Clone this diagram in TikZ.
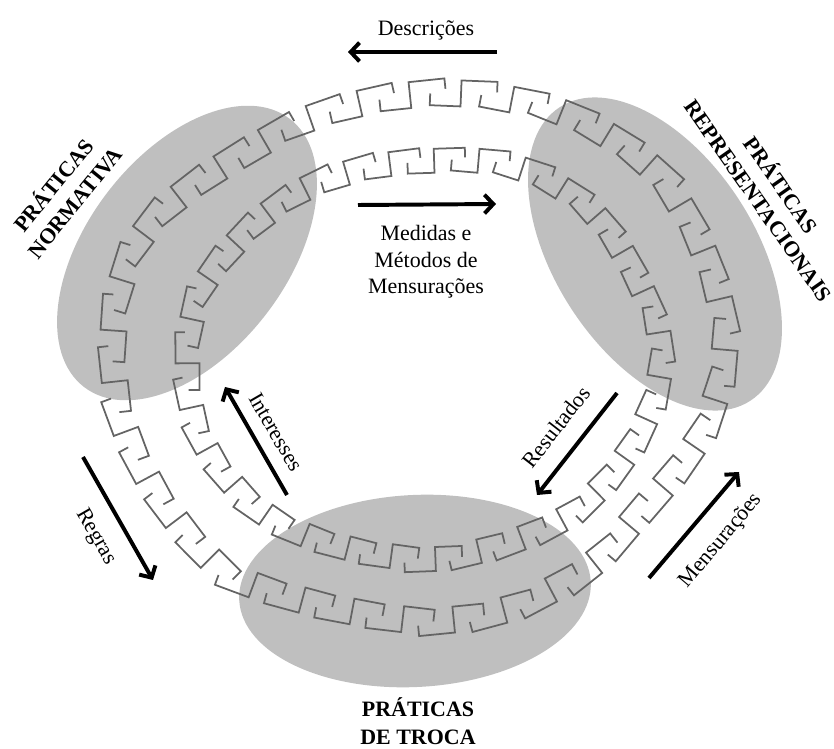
\documentclass[tikz,border=0pt]{standalone}
\usepackage{fontspec}
\setmainfont{Liberation Serif}
\usepackage{tikz}
\usetikzlibrary{arrows.meta}
\usetikzlibrary{decorations.markings}
\definecolor{cinza}{RGB}{191,191,191}
\definecolor{grega}{RGB}{100,100,100}

\begin{document}
\begin{tikzpicture}[x=0.016cm,y=-0.016cm,
		seta/.style={-{Straight Barb[length=4pt,width=8.5pt]},line width=1.8pt},
		rotulo/.style={font=\fontsize{10}{12}\selectfont},
		pratica/.style={font=\fontsize{10}{12.5}\selectfont\bfseries,align=center},
		gregaext/.style={decorate,decoration={markings,
			mark=between positions 0 and 0.99 step 0.02857 with
			{\draw[grega,line width=0.8pt] (-33.4,1.3) -- (-33.4,13) -- (-2.6,13) -- (-2.6,-13) -- (33.4,-13) -- (33.4,-2.6);}}},
		gregaint/.style={decorate,decoration={markings,
			mark=between positions 0 and 0.99 step 0.03226 with
			{\draw[grega,line width=0.8pt] (-28.9,1.2) -- (-28.9,12) -- (-2.2,12) -- (-2.2,-12) -- (28.9,-12) -- (28.9,-2.4);}}}]
		\useasboundingbox (0,0) rectangle (834,749);

		% zonas cinzentas
		\fill[cinza, rotate around={52.5:(187,253)}] (187,253) ellipse [x radius=169, y radius=100];
		\fill[cinza, rotate around={-57:(655,254)}] (655,254) ellipse [x radius=175, y radius=100];
		\fill[cinza, rotate around={3:(415,591)}] (415,591) ellipse [x radius=176, y radius=96];

		% anel externo
		\path[gregaext] plot[smooth cycle] coordinates {(303,121) (362,103) (422,94) (483,95) (555,110) (612,138) (660,176) (693,228) (714,280) (725,332) (720,382) (702,433) (672,476) (638,515) (590,566) (514,607) (430,621) (330,607) (236,578) (190,537) (150,482) (122,420) (113,360) (117,300) (135,247) (167,207) (212,173) (258,145)};
		% anel interno
		\path[gregaint] plot[smooth cycle] coordinates {(263,217) (307,188) (358,170) (410,162) (481,161) (533,173) (583,203) (615,240) (641,287) (658,330) (660,370) (652,405) (633,445) (603,485) (565,518) (505,544) (435,559) (365,552) (305,535) (262,512) (229,480) (204,443) (190,400) (188,345) (200,292) (228,252)};

		\node[pratica,rotate=51] (NORM) at (63,193) {PRÁTICAS\\NORMATIVA};
		\node[pratica,rotate=-55] (REPR) at (771,192) {PRÁTICAS\\REPRESENTACIONAIS};
		\node[pratica] (TROCA) at (418,721) {PRÁTICAS\\DE TROCA};

		\node[rotulo] (DESC) at (426,30) {Descrições};
		\node[rotulo,align=center] (MED) at (426,262) {Medidas e\\Métodos de\\Mensurações};
		\node[rotulo,rotate=-60] (INT) at (276,432) {Interesses};
		\node[rotulo,rotate=-60] (REG) at (96,537) {Regras};
		\node[rotulo,rotate=52] (RES) at (556,427) {Resultados};
		\node[rotulo,rotate=50] (MEN) at (721,541) {Mensurações};

		\coordinate (D1) at (497,52);
		\coordinate (D2) at (348,52);
		\coordinate (M1) at (358,205);
		\coordinate (M2) at (496,204);
		\coordinate (I1) at (287,495);
		\coordinate (I2) at (225,387);
		\coordinate (G1) at (83,457);
		\coordinate (G2) at (153,580);
		\coordinate (R1) at (617,393);
		\coordinate (R2) at (537,495);
		\coordinate (S1) at (649,578);
		\coordinate (S2) at (739,472);

		\draw [seta] (D1) -- (D2);
		\draw [seta] (M1) -- (M2);
		\draw [seta] (I1) -- (I2);
		\draw [seta] (G1) -- (G2);
		\draw [seta] (R1) -- (R2);
		\draw [seta] (S1) -- (S2);
	\end{tikzpicture}
\end{document}
